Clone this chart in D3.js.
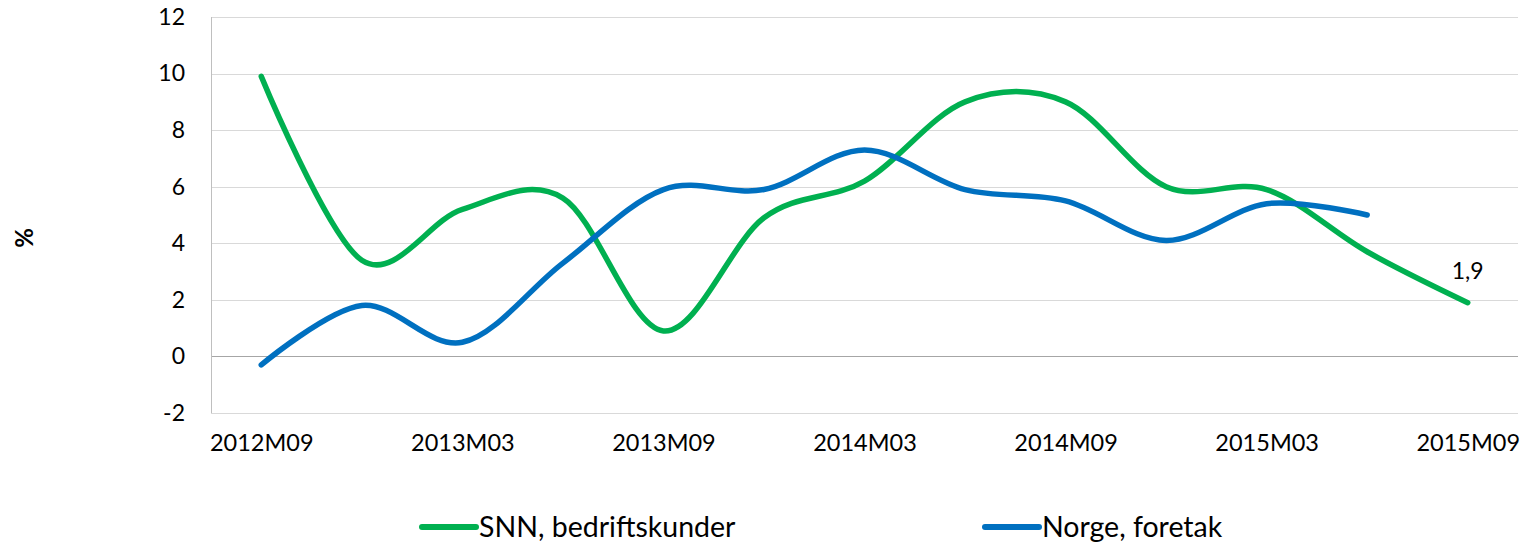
<!DOCTYPE html>
<html>
<head>
<meta charset="utf-8">
<script src="https://cdn.jsdelivr.net/npm/d3@7"></script>
<style>
  html, body { margin: 0; padding: 0; background: #fff; }
  svg { display: block; }
  text { font-family: Lato, "Open Sans", sans-serif; fill: #000; }
</style>
</head>
<body>
<svg id="chart" width="1527" height="543"></svg>
<script>
// Quarterly periods
const periods = ["2012M09","2012M12","2013M03","2013M06","2013M09","2013M12",
                 "2014M03","2014M06","2014M09","2014M12","2015M03","2015M06","2015M09"];
// Labelled periods on the x axis
const xTickLabels = ["2012M09","2013M03","2013M09","2014M03","2014M09","2015M03","2015M09"];
// Growth, per cent
const snnValues   = [9.9, 3.4, 5.2, 5.6, 0.9, 4.9, 6.2, 9.0, 9.0, 6.0, 5.9, 3.7, 1.9];
const norgeValues = [-0.3, 1.8, 0.5, 3.3, 5.9, 5.9, 7.3, 5.9, 5.5, 4.1, 5.4, 5.0, null];
const yTicks = [-2, 0, 2, 4, 6, 8, 10, 12];

const seriesNames  = ["SNN, bedriftskunder", "Norge, foretak"];
const seriesColors = ["#00B050", "#0070C0"];

const svg = d3.select("#chart");
const plot = { left: 211, right: 1518, top: 17, bottom: 413 };

const x = d3.scalePoint().domain(periods).range([plot.left, plot.right]).padding(0.5);
const y = d3.scaleLinear().domain([-2, 12]).range([plot.bottom, plot.top]);

// Horizontal gridlines
svg.append("g").selectAll("line").data(yTicks).join("line")
  .attr("x1", plot.left).attr("x2", plot.right)
  .attr("y1", d => Math.round(y(d)) + 0.5).attr("y2", d => Math.round(y(d)) + 0.5)
  .attr("stroke", d => d === 0 ? "#A6A6A6" : "#D9D9D9")
  .attr("stroke-width", 1);

// Vertical axis line
svg.append("line")
  .attr("x1", plot.left + 0.5).attr("x2", plot.left + 0.5)
  .attr("y1", plot.top).attr("y2", plot.bottom)
  .attr("stroke", "#BFBFBF");

// Y axis labels
const yAxis = d3.axisLeft(y).tickValues(yTicks).tickSize(0).tickPadding(26)
  .tickFormat(d => String(d));
svg.append("g").attr("transform", `translate(${plot.left},0)`).call(yAxis)
  .call(g => g.select(".domain").remove())
  .selectAll("text").style("font-size", "23px").style("font-family", "Lato, sans-serif");

// X axis labels
const xAxis = d3.axisBottom(x).tickValues(xTickLabels).tickSize(0).tickPadding(21);
svg.append("g").attr("transform", `translate(0,${plot.bottom})`).call(xAxis)
  .call(g => g.select(".domain").remove())
  .selectAll("text").style("font-size", "23.5px").style("font-family", "Lato, sans-serif");

// Y axis title
svg.append("text")
  .attr("transform", "translate(33,238) rotate(-90)")
  .attr("text-anchor", "middle")
  .style("font-size", "24px").style("font-weight", "bold")
  .text("%");

// Smoothed lines
const line = d3.line()
  .defined(d => d.v != null)
  .x(d => x(d.p)).y(d => y(d.v))
  .curve(d3.curveCatmullRom.alpha(0));

[snnValues, norgeValues].forEach((vals, i) => {
  const pts = periods.map((p, j) => ({ p, v: vals[j] }));
  svg.append("path")
    .datum(pts)
    .attr("d", line)
    .attr("fill", "none")
    .attr("stroke", seriesColors[i])
    .attr("stroke-width", 5.5)
    .attr("stroke-linecap", "round")
    .attr("stroke-linejoin", "round");
});

// Value label on the last SNN point
const lastIdx = snnValues.length - 1;
svg.append("text")
  .attr("x", x(periods[lastIdx]))
  .attr("y", y(snnValues[lastIdx]) - 24)
  .attr("text-anchor", "middle")
  .style("font-size", "23px")
  .text(String(snnValues[lastIdx]).replace(".", ","));

// Legend
const legendX = [420, 983];
const legend = svg.append("g");
seriesNames.forEach((name, i) => {
  const g = legend.append("g").attr("transform", `translate(${legendX[i]},527)`);
  g.append("line").attr("x1", 2).attr("x2", 56).attr("y1", 0).attr("y2", 0)
    .attr("stroke", seriesColors[i]).attr("stroke-width", 6).attr("stroke-linecap", "round");
  g.append("text").attr("x", 59).attr("y", 0).attr("dy", "0.36em")
    .style("font-size", "28.5px").text(name);
});
</script>
</body>
</html>
